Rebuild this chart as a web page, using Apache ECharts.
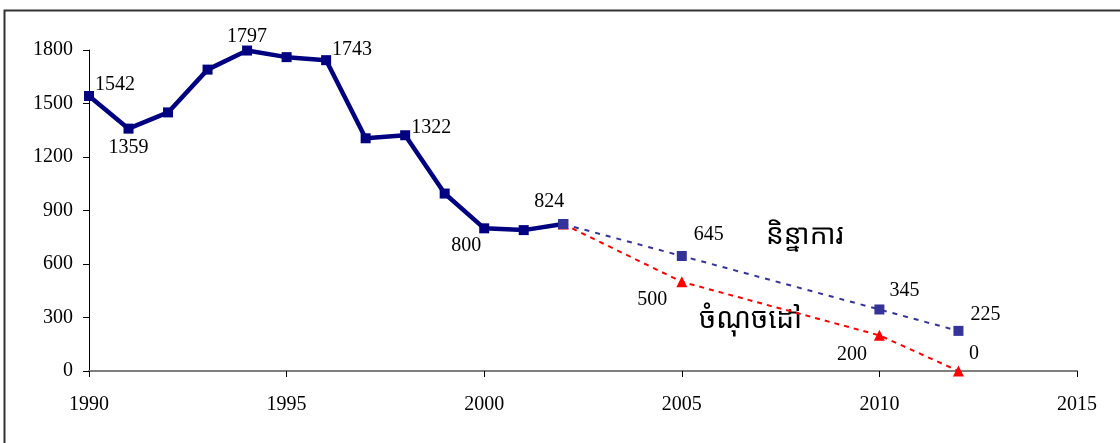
<!DOCTYPE html>
<html>
<head>
<meta charset="utf-8">
<style>
  html, body { margin: 0; padding: 0; background: #fff; }
  #chart { width: 1120px; height: 443px; }
</style>
<script src="https://cdn.jsdelivr.net/npm/echarts@6/dist/echarts.min.js"></script>
</head>
<body>
<div id="chart"></div>
<script>
// Recorded values 1990-2002
const years = [1990, 1991, 1992, 1993, 1994, 1995, 1996, 1997, 1998, 1999, 2000, 2001, 2002];
const recorded = [1542, 1359, 1450, 1690, 1797, 1760, 1743, 1305, 1322, 995, 800, 790, 824];

// Trend projection (និន្នាការ)
const trendYears = [2002, 2005, 2010, 2012];
const trendValues = [824, 645, 345, 225];

// Target path (ចំណុចដៅ)
const targetYears = [2002, 2005, 2010, 2012];
const targetValues = [824, 500, 200, 0];

// Axis ticks
const xTicks = [1990, 1995, 2000, 2005, 2010, 2015];
const yTicks = [0, 300, 600, 900, 1200, 1500, 1800];

const trendName = 'និន្នាការ';
const targetName = 'ចំណុចដៅ';

const SERIF = "'Liberation Serif', 'Times New Roman', serif";
const KHMER = "'Khmer OS', 'Noto Sans Khmer', 'Noto Serif Khmer', 'Khmer OS System', 'Liberation Serif', serif";

// Which recorded points carry a value label, and where
const recordedLabels = {
  1990: { position: 'right', offset: [-4, -11] },
  1991: { position: 'bottom', offset: [0, -1] },
  1994: { position: 'top', offset: [0, 6] },
  1996: { position: 'right', offset: [-4, -10] },
  1998: { position: 'right', offset: [-4, -7] },
  2000: { position: 'bottom', offset: [-18, -3] },
  2002: { position: 'top', offset: [-14, -2] }
};
const trendLabels = {
  2005: { position: 'right', offset: [2, -21] },
  2010: { position: 'right', offset: [0, -19] },
  2012: { position: 'right', offset: [2, -16] }
};
const targetLabels = {
  2005: { position: 'left', offset: [-4, 18] },
  2010: { position: 'left', offset: [-2, 19] },
  2012: { position: 'right', offset: [0, -17] }
};

const labelStyle = { fontFamily: SERIF, fontSize: 20, color: '#000' };

function buildData(xs, vs, labels) {
  return xs.map((x, i) => {
    const item = { value: [x, vs[i]] };
    const l = labels[x];
    if (l) {
      item.label = Object.assign({ show: true, formatter: String(vs[i]) }, labelStyle, l);
    } else {
      item.label = { show: false };
    }
    return item;
  });
}

const chart = echarts.init(document.getElementById('chart'), null, { renderer: 'canvas' });

chart.setOption({
  animation: false,
  backgroundColor: '#fff',
  grid: { left: 89, right: 43, top: 50, bottom: 72, containLabel: false },
  xAxis: {
    type: 'value',
    min: xTicks[0],
    max: xTicks[xTicks.length - 1],
    interval: 5,
    axisLine: { show: true, onZero: false, lineStyle: { color: '#7f7f7f', width: 2 } },
    axisTick: { show: true, inside: false, length: 6, lineStyle: { color: '#000', width: 1 } },
    axisLabel: { fontFamily: SERIF, fontSize: 20, color: '#000', margin: 24, formatter: v => String(v) },
    splitLine: { show: false }
  },
  yAxis: {
    type: 'value',
    min: yTicks[0],
    max: yTicks[yTicks.length - 1],
    interval: 300,
    axisLine: { show: true, lineStyle: { color: '#000', width: 1 } },
    axisTick: { show: true, inside: false, length: 6, lineStyle: { color: '#000', width: 1 } },
    axisLabel: { fontFamily: SERIF, fontSize: 20, color: '#000', margin: 16, formatter: v => String(v) },
    splitLine: { show: false }
  },
  graphic: [
    {
      type: 'rect',
      shape: { x: 4.5, y: 10.5, width: 1140, height: 460 },
      style: { fill: 'none', stroke: '#333', lineWidth: 2 },
      silent: true,
      z: -1
    },
    {
      type: 'text',
      left: 766, top: 222,
      style: { text: trendName, font: "28px " + KHMER, fill: '#000' }
    },
    {
      type: 'text',
      left: 699, top: 306,
      style: { text: targetName, font: "28px " + KHMER, fill: '#000' }
    }
  ],
  series: [
    {
      name: targetName,
      type: 'line',
      data: buildData(targetYears, targetValues, targetLabels),
      symbol: 'triangle',
      symbolSize: 11,
      showSymbol: true,
      lineStyle: { color: '#ff0000', width: 2, type: [5, 5] },
      itemStyle: { color: '#ff0000' },
      z: 2
    },
    {
      name: 'recorded',
      type: 'line',
      data: buildData(years, recorded, recordedLabels),
      symbol: 'rect',
      symbolSize: 10,
      showSymbol: true,
      lineStyle: { color: '#000080', width: 4.5 },
      itemStyle: { color: '#000080' },
      z: 3
    },
    {
      name: trendName,
      type: 'line',
      data: buildData(trendYears, trendValues, trendLabels),
      symbol: 'rect',
      symbolSize: 10,
      showSymbol: true,
      lineStyle: { color: '#333399', width: 2, type: [5, 6] },
      itemStyle: { color: '#333399' },
      z: 4
    }
  ]
});
</script>
</body>
</html>
